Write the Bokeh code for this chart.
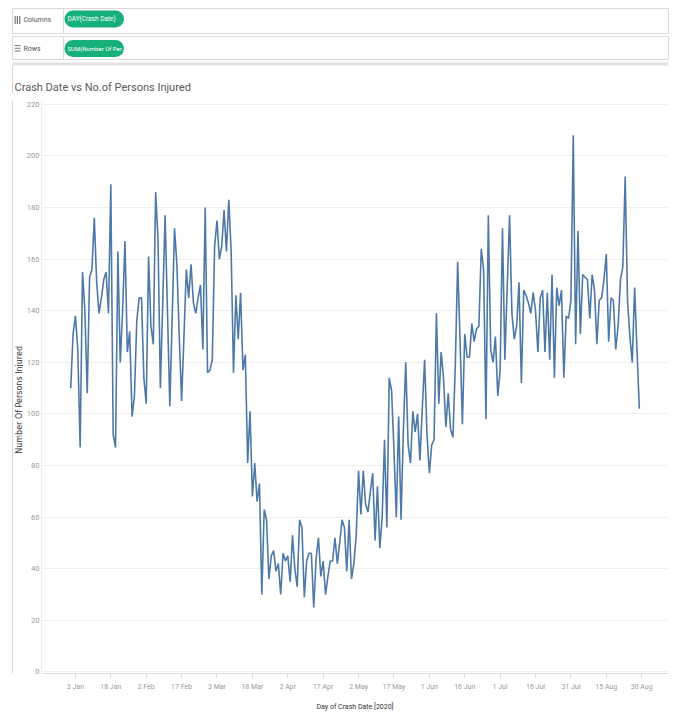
import math
import pandas as pd
from bokeh.plotting import figure
from bokeh.layouts import column, row
from bokeh.models import Range1d, FixedTicker, Label, ColumnDataSource
from bokeh.embed import file_html
from bokeh.resources import INLINE

# ---------------- data ----------------
start_date = "2020-01-01"
injured = [
    110, 131, 138, 125, 87, 155, 140, 108, 153, 156,
    176, 151, 139, 145, 152, 155, 139, 189, 92, 87,
    163, 120, 140, 167, 124, 132, 99, 107, 136, 145,
    145, 114, 104, 161, 134, 127, 186, 168, 110, 143,
    177, 140, 103, 137, 172, 158, 130, 105, 130, 156,
    145, 158, 143, 139, 145, 150, 125, 180, 116, 117,
    121, 165, 175, 160, 165, 179, 163, 183, 163, 116,
    146, 129, 147, 117, 123, 81, 101, 68, 81, 66,
    73, 30, 63, 59, 36, 45, 47, 39, 42, 30,
    46, 43, 45, 35, 53, 40, 33, 59, 56, 29,
    43, 46, 46, 25, 44, 52, 37, 43, 30, 37,
    43, 43, 52, 42, 50, 59, 56, 39, 59, 36,
    42, 53, 78, 61, 78, 65, 62, 70, 77, 51,
    72, 48, 60, 90, 56, 114, 109, 86, 60, 99,
    59, 94, 120, 88, 81, 101, 93, 100, 82, 102,
    121, 92, 77, 88, 90, 139, 104, 124, 114, 95,
    108, 94, 91, 119, 159, 129, 96, 131, 122, 122,
    135, 128, 133, 134, 164, 156, 98, 177, 125, 120,
    130, 107, 117, 172, 121, 149, 177, 139, 129, 134,
    151, 112, 148, 146, 143, 139, 147, 140, 124, 145,
    148, 124, 147, 121, 154, 114, 149, 142, 148, 114,
    138, 137, 144, 208, 127, 171, 131, 154, 153, 152,
    137, 154, 148, 127, 144, 145, 152, 162, 128, 145,
    144, 125, 134, 152, 157, 192, 144, 130, 120, 149,
    125, 102,
]
dates = pd.date_range(start_date, periods=len(injured), freq="D")

y_ticks = [0, 20, 40, 60, 80, 100, 120, 140, 160, 180, 200, 220]
x_tick_dates = ["2020-01-03", "2020-01-18", "2020-02-02", "2020-02-17", "2020-03-03",
                "2020-03-18", "2020-04-02", "2020-04-17", "2020-05-02", "2020-05-17",
                "2020-06-01", "2020-06-16", "2020-07-01", "2020-07-16", "2020-07-31",
                "2020-08-15", "2020-08-30"]
x_tick_labels = ["3 Jan", "18 Jan", "2 Feb", "17 Feb", "3 Mar", "18 Mar", "2 Apr", "17 Apr",
                 "2 May", "17 May", "1 Jun", "16 Jun", "1 Jul", "16 Jul", "31 Jul",
                 "15 Aug", "30 Aug"]

title_text = "Crash Date vs No.of Persons Injured"
x_title = "Day of Crash Date [2020]"
y_title = "Number Of Persons Injured"
col_pill = "DAY(Crash Date)"
row_pill = "SUM(Number Of Per.."

FONT = "Roboto"
LINE = "#4e79a7"
GREEN = "#17b07b"
BORDER = "#d9d9d9"


def ms(ts):
    return pd.Timestamp(ts).value / 1e6


def bare(fig):
    fig.axis.visible = False
    fig.grid.visible = False
    fig.outline_line_color = None


# ---------------- top decoration (shelves + title) ----------------
top = figure(width=675, height=94, x_range=Range1d(0, 675), y_range=Range1d(94, 0),
             toolbar_location=None, output_backend="svg", min_border=0)
bare(top)

top.quad(left=[12, 12], right=[668, 668], top=[8, 36], bottom=[33, 59],
         fill_color="white", line_color=BORDER, line_width=1)
top.segment(x0=[63, 63], y0=[8, 36], x1=[63, 63], y1=[33, 59], line_color=BORDER)
top.quad(left=[12], right=[668], top=[62], bottom=[65], fill_color="#e1e1e1", line_color=None)
top.segment(x0=[12], y0=[65], x1=[12], y1=[94], line_color=BORDER)

# shelf icons
top.quad(left=[14, 16.3, 18.6], right=[15.2, 17.5, 19.8], top=[15.5, 15.5, 15.5],
         bottom=[23.5, 23.5, 23.5], fill_color="#777777", line_color=None)
top.quad(left=[14, 14, 14], right=[20, 20, 20], top=[44.5, 47.3, 50.1],
         bottom=[45.5, 48.3, 51.1], fill_color="#777777", line_color=None)

# pills
for yc in (18.5, 48):
    top.quad(left=[72.5], right=[115], top=[yc - 8.5], bottom=[yc + 8.5],
             fill_color=GREEN, line_color=None)
    top.scatter(x=[72.5, 115], y=[yc, yc], size=17, marker="circle",
                fill_color=GREEN, line_color=None)

top.add_layout(Label(x=23, y=19.5, text="Columns", text_font=FONT, text_font_size="7px",
                     text_color="#555555", text_baseline="middle"))
top.add_layout(Label(x=23, y=48.5, text="Rows", text_font=FONT, text_font_size="7px",
                     text_color="#555555", text_baseline="middle"))
top.add_layout(Label(x=67, y=18.5, text=col_pill, text_font=FONT, text_font_size="6.5px",
                     text_color="white", text_baseline="middle"))
top.add_layout(Label(x=67, y=48, text=row_pill, text_font=FONT, text_font_size="6px",
                     text_color="white", text_baseline="middle"))
top.add_layout(Label(x=14, y=87, text=title_text, text_font=FONT, text_font_size="11px",
                     text_color="#595959", text_baseline="middle"))

# ---------------- left strip (frame border + y title) ----------------
STRIP_W = 23
strip = figure(width=STRIP_W, height=622, x_range=Range1d(0, STRIP_W), y_range=Range1d(716, 94),
               toolbar_location=None, output_backend="svg", min_border=0)
bare(strip)
strip.segment(x0=[12], y0=[94], x1=[12], y1=[716], line_color=BORDER)
strip.add_layout(Label(x=18.5, y=419, text=y_title, angle=math.pi / 2,
                       text_font="DejaVu Sans", text_font_size="8px", text_color="#333333",
                       text_align="center", text_baseline="middle"))

# ---------------- main chart ----------------
d0 = pd.Timestamp(start_date)
x_start = ms(d0 - pd.Timedelta(days=12.38))
x_end = ms(d0 + pd.Timedelta(days=253.36))

p = figure(width=675 - STRIP_W, height=622, x_axis_type="datetime",
           x_range=Range1d(x_start, x_end), y_range=Range1d(-0.6, 221.5),
           toolbar_location=None, output_backend="svg",
           min_border_left=39 - STRIP_W, min_border_right=7, min_border_top=6,
           min_border_bottom=43)
p.outline_line_color = None

src = ColumnDataSource(data=dict(date=dates, injured=injured))
p.line(x="date", y="injured", source=src, line_color=LINE, line_width=1.6)

# y axis
p.yaxis.ticker = FixedTicker(ticks=y_ticks)
p.yaxis.major_tick_line_color = None
p.yaxis.major_tick_out = 0
p.yaxis.major_tick_in = 0
p.yaxis.minor_tick_line_color = None
p.yaxis.minor_tick_out = 0
p.yaxis.axis_line_color = "#ececec"
p.yaxis.major_label_text_font = FONT
p.yaxis.major_label_text_font_size = "7.5px"
p.yaxis.major_label_text_color = "#999999"
p.yaxis.major_label_standoff = 2

# x axis
tick_ms = [ms(d) for d in x_tick_dates]
p.xaxis.ticker = FixedTicker(ticks=tick_ms)
p.xaxis.major_label_overrides = {t: lab for t, lab in zip(tick_ms, x_tick_labels)}
p.xaxis.minor_tick_line_color = None
p.xaxis.minor_tick_out = 0
p.xaxis.axis_line_color = "#dcdcdc"
p.xaxis.major_tick_line_color = "#dcdcdc"
p.xaxis.major_tick_in = 0
p.xaxis.major_tick_out = 5
p.xaxis.major_label_text_font = FONT
p.xaxis.major_label_text_font_size = "7px"
p.xaxis.major_label_text_color = "#999999"
p.xaxis.major_label_standoff = 4
p.xaxis.axis_label = x_title
p.xaxis.axis_label_text_font = FONT
p.xaxis.axis_label_text_font_style = "normal"
p.xaxis.axis_label_text_font_size = "7px"
p.xaxis.axis_label_text_color = "#333333"
p.xaxis.axis_label_standoff = 9

p.xgrid.visible = False
p.ygrid.ticker = FixedTicker(ticks=y_ticks)
p.ygrid.grid_line_color = "#efefef"
p.ygrid.grid_line_width = 1

layout = column(top, row(strip, p))
open("out.html", "w").write(file_html(layout, INLINE))
